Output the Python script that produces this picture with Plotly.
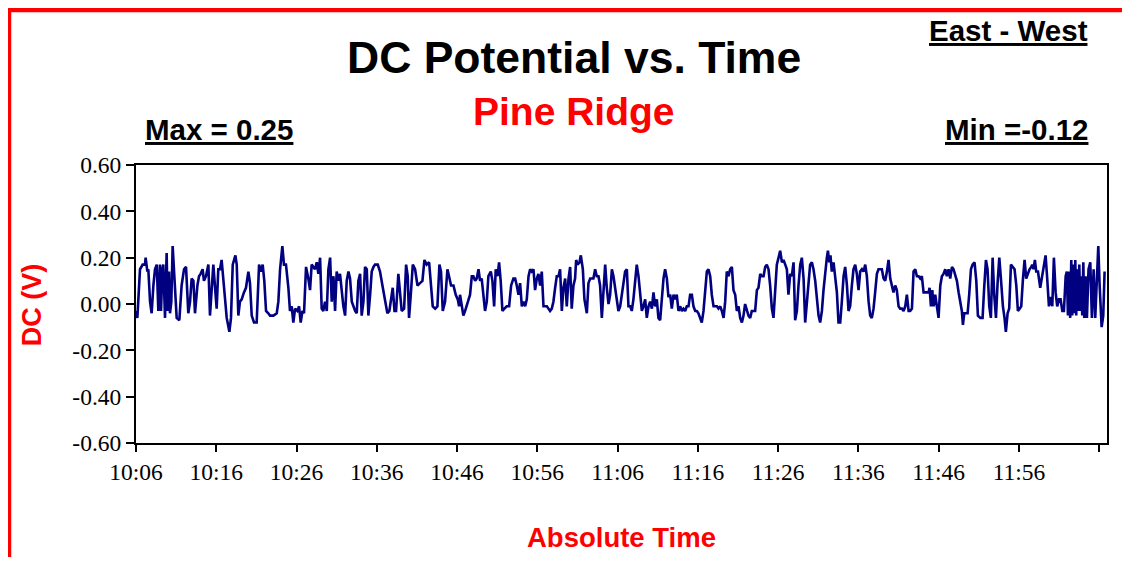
import pandas as pd
import plotly.graph_objects as go

# ---------------- data ----------------
start_time = "2000-01-01 10:06:00"
# elapsed seconds since 10:06:00
elapsed_s = [
    0, 10, 30, 50, 67, 72, 85, 92, 105, 117, 130, 142, 155, 167, 179, 187, 197, 204, 217, 229,
    237, 247, 254, 264, 274, 287, 304, 324, 341, 359, 374, 391, 404, 416, 429, 441, 459, 471, 483, 498,
    508, 523, 541, 553, 566, 578, 591, 603, 615, 628, 640, 660, 678, 698, 710, 723, 743, 753, 765, 777,
    790, 807, 822, 840, 852, 865, 882, 902, 920, 932, 947, 959, 972, 989, 1002, 1027, 1052, 1064, 1077, 1094,
    1106, 1121, 1139, 1151, 1164, 1176, 1189, 1206, 1219, 1231, 1244, 1256, 1271, 1288, 1301, 1313, 1326, 1338, 1351, 1363,
    1376, 1388, 1400,
    1413, 1426, 1438, 1451, 1463, 1476, 1488, 1500, 1513, 1525, 1538, 1550, 1563, 1575, 1588, 1600, 1613, 1625, 1638, 1650,
    1662, 1675, 1687, 1700, 1712, 1725, 1737, 1750, 1762, 1775, 1787, 1807, 1824, 1842, 1862, 1879, 1894, 1907, 1919, 1932,
    1944, 1961, 1974, 1986, 2004, 2019, 2031, 2041, 2054, 2069, 2086, 2104, 2123, 2141, 2156, 2173, 2191, 2206, 2218, 2236,
    2253, 2268, 2280, 2293, 2310, 2328, 2340, 2355, 2373, 2390, 2405, 2415, 2422, 2435, 2447, 2460, 2480, 2497, 2510, 2522,
    2535, 2547, 2560, 2572, 2584, 2597, 2609, 2622, 2634, 2652, 2664, 2677, 2689, 2702, 2714, 2726, 2739, 2754, 2771, 2789,
    2804, 2821, 2834, 2846, 2859,
    2871, 2884, 2896, 2909, 2921, 2934, 2946, 2958, 2971, 2983, 2996, 3008, 3021, 3033, 3046, 3058, 3071, 3083, 3095, 3108,
    3120, 3133, 3145, 3158, 3170, 3183, 3195, 3208, 3220, 3233, 3245, 3257, 3270, 3282, 3290, 3300, 3315, 3325, 3340, 3352,
    3370, 3382, 3395, 3407, 3419, 3432, 3444, 3457, 3469, 3482, 3494, 3507, 3519, 3532, 3544, 3557, 3569, 3581, 3594, 3606,
    3619, 3631, 3644, 3656, 3669, 3681, 3694, 3706, 3718, 3731, 3743, 3756, 3768, 3781, 3793, 3806, 3818, 3831, 3843, 3856,
    3868, 3880, 3893, 3905, 3918, 3930, 3943, 3955, 3968, 3980, 3993, 4005, 4018, 4030, 4042, 4055, 4067, 4080, 4092, 4105,
    4117, 4130, 4142, 4155, 4167, 4180, 4192, 4204, 4217, 4229, 4242, 4254, 4267, 4279, 4292, 4304, 4317,
    4329, 4342, 4354, 4367, 4379, 4392, 4404, 4416, 4429, 4441, 4454, 4466, 4479, 4491, 4504, 4516, 4529, 4541, 4553, 4566,
    4578, 4591, 4603, 4616, 4628, 4641, 4653, 4666, 4678, 4691, 4703, 4715, 4728, 4740, 4753, 4765, 4778, 4790, 4803, 4815,
    4828, 4840, 4853, 4865, 4877, 4890, 4902, 4915, 4927, 4940, 4952, 4965, 4977, 4990, 5002, 5015, 5027, 5039, 5052, 5064,
    5077, 5089, 5102, 5114, 5127, 5139, 5152, 5164, 5172, 5182, 5191, 5201, 5214, 5226, 5239, 5251, 5264, 5276, 5289, 5301,
    5314, 5326, 5338, 5351, 5363, 5376, 5388, 5401, 5413, 5426, 5438, 5451, 5463, 5476, 5488, 5500, 5513, 5525, 5538, 5550,
    5563, 5575, 5588, 5600, 5613, 5625, 5638, 5650, 5662, 5675, 5687, 5700, 5712, 5725, 5737, 5750, 5762, 5775,
    5787, 5800, 5812, 5825, 5837, 5850, 5862, 5874, 5887, 5899, 5912, 5924, 5932, 5942, 5952, 5962, 5974, 5987, 5999, 6012,
    6024, 6036, 6049, 6061, 6074, 6086, 6099, 6111, 6124, 6136, 6149, 6161, 6173, 6181, 6191, 6203, 6216, 6228, 6241, 6253,
    6268, 6281, 6293, 6311, 6328, 6340, 6353, 6365, 6378, 6390, 6403, 6415, 6428, 6440, 6453, 6465, 6480, 6492, 6502, 6515,
    6527, 6540, 6552, 6567, 6580, 6592, 6605, 6617, 6630, 6642, 6654, 6667, 6679, 6692, 6699, 6709, 6719, 6729, 6742, 6759,
    6772, 6784, 6799, 6811, 6824, 6836, 6849, 6861, 6874, 6886, 6899, 6911, 6924, 6936, 6949, 6958, 6966, 6973, 6983, 6991,
    6998, 7006, 7013, 7021, 7028, 7036, 7043, 7051, 7058, 7066, 7073, 7081, 7088, 7098, 7108, 7120, 7133, 7145, 7158, 7170,
    7183, 7193, 7203, 7218, 7230, 7240,
]
dc_volts = [
    -0.03, -0.06, 0.15, 0.17, 0.17, 0.20, 0.14, 0.15, 0.01, -0.04, 0.08, 0.15, 0.17, -0.03, 0.17, -0.03, 0.15, 0.17, -0.06, 0.22,
    -0.03, 0.14, -0.04, 0.01, 0.25, 0.11, -0.06, -0.07, 0.08, 0.15, 0.16, -0.04, 0.01, 0.11, 0.10, -0.04, 0.08, 0.12, 0.13, 0.15,
    0.10, 0.12, 0.17, -0.05, 0.05, 0.17, 0.07, -0.02, 0.15, 0.15, 0.19, 0.04, -0.06, -0.12, -0.06, 0.17, 0.21, 0.17, -0.05, 0.01,
    0.02, 0.05, 0.07, 0.14, 0.09, -0.05, -0.08, -0.08, 0.17, 0.14, 0.17, 0.10, -0.03, -0.04, -0.05, -0.05, -0.04, 0.01, 0.15, 0.25,
    0.17, 0.17, 0.07, -0.03, -0.01, -0.08, -0.02, -0.03, -0.01, -0.08, -0.03, -0.04, 0.16, 0.11, 0.06, 0.17, 0.16, 0.15, 0.18, 0.13,
    0.20, -0.02, -0.03,
    0.01, -0.03, 0.15, 0.20, 0.01, 0.12, -0.03, 0.14, 0.10, 0.13, 0.04, -0.01, -0.05, 0.10, 0.14, 0.11, 0.01, -0.01, -0.03, -0.04,
    0.10, 0.13, -0.05, 0.01, 0.16, 0.15, -0.05, 0.04, 0.14, 0.16, 0.17, 0.17, 0.14, 0.08, 0.01, -0.04, -0.03, 0.02, 0.07, -0.03,
    -0.03, 0.13, 0.04, -0.03, -0.02, 0.17, 0.12, -0.06, 0.04, 0.17, 0.15, 0.08, 0.09, 0.10, 0.19, 0.17, 0.18, 0.08, -0.01, -0.02,
    -0.01, 0.17, 0.14, -0.03, 0.01, 0.15, 0.12, 0.08, 0.08, 0.04, 0.02, -0.01, 0.04, -0.01, -0.05, -0.03, 0.01, 0.04, 0.12, 0.12,
    0.10, 0.11, 0.15, 0.10, 0.11, 0.05, -0.03, 0.01, 0.12, 0.14, 0.10, -0.01, 0.15, 0.12, 0.18, 0.10, -0.03, -0.02, -0.01, -0.01,
    0.08, 0.11, 0.11, 0.08, 0.04,
    0.09, -0.01, 0.01, -0.01, 0.02, 0.12, 0.15, 0.14, 0.15, 0.06, 0.11, 0.13, 0.08, 0.14, -0.01, -0.01, -0.01, -0.02, -0.03, -0.02,
    0.01, 0.07, 0.12, 0.12, 0.15, -0.03, 0.07, 0.11, -0.01, 0.11, 0.16, -0.02, 0.08, 0.11, 0.19, 0.17, 0.18, 0.21, 0.15, 0.02,
    -0.04, 0.09, 0.11, 0.11, 0.11, 0.15, 0.12, 0.12, 0.08, -0.06, 0.07, 0.17, 0.07, 0.00, 0.04, 0.15, 0.12, 0.07, 0.01, -0.03,
    -0.01, 0.04, 0.11, 0.14, 0.15, -0.01, -0.01, -0.03, 0.02, 0.11, 0.17, 0.12, 0.04, -0.03, -0.01, 0.02, -0.06, -0.01, 0.01, -0.02,
    0.05, -0.01, 0.02, -0.06, -0.07, 0.02, 0.11, 0.15, 0.11, 0.03, 0.04, -0.02, 0.04, 0.02, 0.04, -0.03, -0.01, -0.03, -0.02, -0.03,
    -0.01, -0.01, 0.04, 0.04, -0.01, -0.03, -0.03, -0.04, -0.06, -0.08, -0.03, 0.04, 0.14, 0.15, 0.12, 0.04, -0.01,
    -0.01, -0.01, -0.02, -0.01, -0.03, -0.06, 0.01, 0.14, 0.12, 0.15, 0.16, 0.06, 0.04, -0.03, -0.01, -0.06, -0.08, -0.05, 0.00, -0.03,
    -0.05, -0.06, -0.03, -0.03, -0.03, 0.06, 0.07, 0.13, 0.12, 0.12, 0.16, 0.17, 0.15, 0.08, -0.02, -0.06, 0.08, 0.17, 0.20, 0.23,
    0.18, 0.19, 0.17, 0.15, 0.04, 0.13, 0.12, 0.18, -0.07, -0.03, 0.08, 0.17, 0.20, 0.11, -0.08, 0.01, 0.11, 0.17, 0.18, 0.15,
    0.10, 0.04, -0.05, -0.08, -0.03, 0.06, 0.15, 0.20, 0.23, 0.18, 0.21, 0.14, 0.18, 0.11, 0.05, -0.08, -0.08, 0.01, 0.12, 0.16,
    0.08, -0.03, -0.01, 0.08, 0.15, 0.17, 0.13, 0.06, 0.14, 0.15, 0.14, 0.17, 0.12, 0.01, -0.05, -0.06, -0.02, 0.05, 0.13, 0.15,
    0.15, 0.15, 0.11, 0.10, 0.14, 0.19, 0.11, 0.08, 0.05, 0.08, 0.06, -0.01, -0.02, -0.02, -0.03, -0.01, 0.04, -0.03,
    -0.03, -0.02, 0.14, 0.15, 0.12, 0.12, 0.11, 0.12, 0.05, 0.05, 0.05, 0.05, 0.07, -0.01, 0.06, -0.01, 0.04, -0.02, -0.06, 0.08,
    0.12, 0.13, 0.15, 0.12, 0.15, 0.11, 0.16, 0.15, 0.12, 0.10, 0.05, 0.01, -0.03, -0.09, -0.04, -0.04, -0.04, 0.04, 0.15, 0.17,
    0.18, 0.10, -0.05, -0.06, -0.06, 0.07, 0.19, 0.15, -0.01, -0.06, 0.20, 0.04, -0.06, 0.09, 0.20, 0.11, -0.01, -0.06, -0.12, -0.04,
    -0.02, 0.17, 0.16, 0.15, 0.08, -0.03, -0.02, -0.01, 0.11, 0.19, 0.11, 0.13, 0.15, 0.16, 0.17, 0.15, 0.19, 0.14, 0.14, 0.07,
    0.11, 0.16, 0.21, 0.11, -0.01, 0.03, -0.01, 0.20, 0.05, -0.01, 0.02, 0.02, -0.03, -0.03, 0.12, 0.14, -0.05, 0.14, -0.06, 0.19,
    -0.05, 0.17, -0.04, 0.19, -0.05, 0.15, -0.03, 0.17, -0.03, 0.12, -0.05, 0.18, -0.06, 0.12, -0.06, 0.15, 0.18, -0.06, 0.15, -0.06,
    0.10, 0.25, 0.08, -0.10, -0.05, 0.14,
]

x_tick_labels = ["10:06", "10:16", "10:26", "10:36", "10:46", "10:56", "11:06",
                 "11:16", "11:26", "11:36", "11:46", "11:56", "12:06"]
y_tick_values = [0.60, 0.40, 0.20, 0.00, -0.20, -0.40, -0.60]
y_tick_labels = ["0.60", "0.40", "0.20", "0.00", "-0.20", "-0.40", "-0.60"]

title_text = "DC Potential vs. Time"
subtitle_text = "Pine Ridge"
direction_text = "East - West"
max_text = "Max = 0.25"
min_text = "Min =-0.12"
x_title = "Absolute Time"
y_title = "DC (V)"

# ---------------- build ----------------
t0 = pd.Timestamp(start_time)
times = t0 + pd.to_timedelta(elapsed_s, unit="s")
tick_vals = [pd.Timestamp("2000-01-01 " + s) for s in x_tick_labels]
x_end = t0 + pd.Timedelta(seconds=7258)

SANS = "Liberation Sans, Arial, sans-serif"
SERIF = "Liberation Serif, Times New Roman, serif"

fig = go.Figure()
fig.add_trace(go.Scatter(
    x=times, y=dc_volts, mode="lines",
    line=dict(color="#000080", width=2.6),
    showlegend=False, hoverinfo="skip",
))

axis_common = dict(
    showgrid=False, zeroline=False, showline=True, linecolor="black", linewidth=2,
    mirror=True, ticks="outside", tickcolor="black", tickwidth=1.5,
    tickfont=dict(family=SERIF, size=23.5, color="black"),
)
fig.update_xaxes(
    type="date", range=[t0, x_end], tickvals=tick_vals, ticktext=x_tick_labels,
    ticklen=7, **axis_common,
)
fig.update_yaxes(
    range=[-0.6, 0.6], tickvals=y_tick_values, ticktext=y_tick_labels,
    ticklen=8, **axis_common,
)

annotations = [
    dict(text="<b>" + title_text + "</b>", x=0.451, y=1.385, font=dict(family=SANS, size=44.5, color="black")),
    dict(text="<b>" + subtitle_text + "</b>", x=0.451, y=1.194, font=dict(family=SANS, size=39, color="#FF0000")),
    dict(text="<b><u>" + direction_text + "</u></b>", x=0.983, y=1.483, xanchor="right",
         font=dict(family=SANS, size=29.5, color="black")),
    dict(text="<b><u>" + max_text + "</u></b>", x=0.0072, y=1.126, xanchor="left",
         font=dict(family=SANS, size=29.5, color="black")),
    dict(text="<b><u>" + min_text + "</u></b>", x=0.983, y=1.126, xanchor="right",
         font=dict(family=SANS, size=29.5, color="black")),
    dict(text="<b>" + x_title + "</b>", x=0.5, y=-0.34, font=dict(family=SANS, size=27.5, color="#FF0000")),
    dict(text="<b>" + y_title + "</b>", x=-0.107, y=0.496, textangle=-90,
         font=dict(family=SANS, size=27, color="#FF0000")),
]
for a in annotations:
    a.setdefault("xanchor", "center")
    a.update(xref="paper", yref="paper", yanchor="middle", showarrow=False)

# the page body keeps an 8px margin, so the figure is sized to fit the visible area
fig.update_layout(
    width=1114, height=549,
    margin=dict(l=128, r=15, t=157, b=114),
    paper_bgcolor="white", plot_bgcolor="white",
    annotations=annotations,
    shapes=[dict(type="rect", xref="paper", yref="paper",
                 x0=-0.1308, x1=1.2, y0=-0.8, y1=1.558,
                 line=dict(color="#FF0000", width=4.5), fillcolor="rgba(0,0,0,0)", layer="above")],
)

fig.write_html("out.html", config={"displayModeBar": False})
